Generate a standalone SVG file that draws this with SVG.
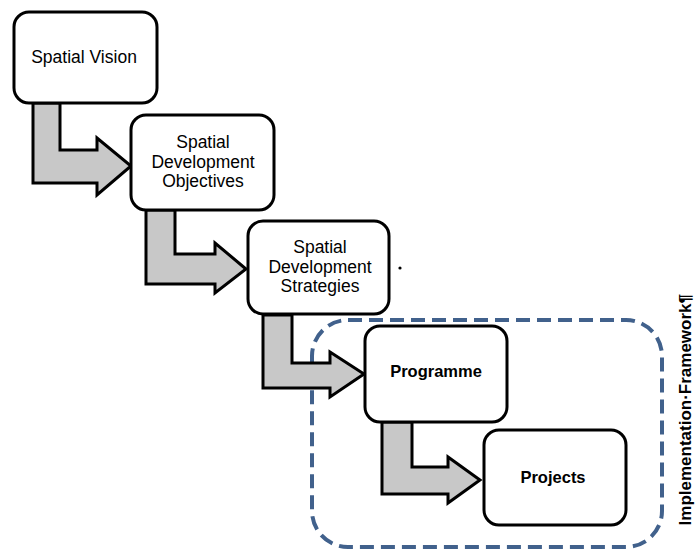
<svg xmlns="http://www.w3.org/2000/svg" width="696" height="550" viewBox="0 0 696 550">
<style>
.box{fill:#fff;stroke:#000;stroke-width:3}
.arr{fill:#c8c8c8;stroke:#000;stroke-width:3;stroke-linejoin:miter}
.t{font-family:"Liberation Sans",Arial,sans-serif;font-size:17.5px;fill:#000;text-anchor:middle}
.b{font-weight:bold;font-size:16.5px}
</style>
<rect width="696" height="550" fill="#fff"/>
<g id="frame">
<rect x="312" y="320" width="350" height="227" rx="36" fill="none" stroke="#41618c" stroke-width="4" stroke-dasharray="14 7"/>
</g>
<g id="connectors">
<polygon class="arr" points="33,103 60,103 60,150 97,150 97,138 131,166 97,195 97,183 33,183"/>
<polygon class="arr" points="146,210 175,210 175,254 215,254 215,243 246,269 215,293 215,284 146,284"/>
<polygon class="arr" points="263,315 292,315 292,363 330,363 330,352 364,374 330,397 330,388 263,388"/>
<polygon class="arr" points="382,422 412,422 412,467 448,467 448,457 480,480 448,503 448,494 382,494"/>
</g>
<g id="n1">
<rect class="box" x="14" y="12" width="143" height="91" rx="15"/>
<text class="t" x="84" y="63">Spatial Vision</text>
</g>
<g id="n2">
<rect class="box" x="131" y="115" width="143" height="95" rx="15"/>
<text class="t" x="203" y="148">Spatial</text>
<text class="t" x="203" y="168">Development</text>
<text class="t" x="203" y="187">Objectives</text>
</g>
<g id="n3">
<rect class="box" x="248" y="221" width="141" height="93" rx="15"/>
<text class="t" x="320" y="253">Spatial</text>
<text class="t" x="320" y="273">Development</text>
<text class="t" x="320" y="292">Strategies</text>
<circle cx="400" cy="268" r="1.6" fill="#000"/>
</g>
<g id="n4">
<rect class="box" x="365" y="326" width="142" height="96" rx="15"/>
<text class="t b" x="436" y="377">Programme</text>
</g>
<g id="n5">
<rect class="box" x="484" y="430" width="142" height="95" rx="15"/>
<text class="t b" x="553" y="483">Projects</text>
</g>
<g id="label">
<text transform="translate(691,294) rotate(-90)" font-family="'Liberation Sans',Arial,sans-serif" font-size="17" font-weight="bold" text-anchor="end">Implementation·Framework¶</text>
</g>
</svg>
